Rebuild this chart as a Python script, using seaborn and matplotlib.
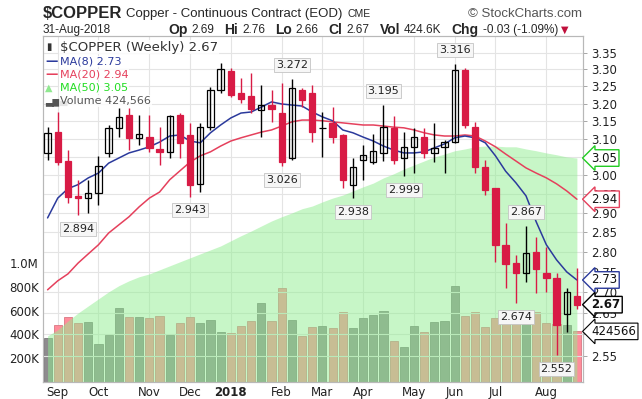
import numpy as np
import pandas as pd
import seaborn as sns
import matplotlib.pyplot as plt
from matplotlib import transforms
from matplotlib.ticker import FixedLocator, FormatStrFormatter, NullLocator

# weekly bars, week of 28-Aug-2017 .. week of 27-Aug-2018
opens = [3.061, 3.119, 3.039, 2.945, 2.939, 2.953, 3.061, 3.131, 3.167, 3.103,
         3.105, 3.072, 3.064, 3.167, 3.111, 2.977, 3.133, 3.240, 3.295, 3.231,
         3.222, 3.182, 3.196, 3.173, 3.047, 3.240, 3.231, 3.131, 3.145, 3.111,
         2.974, 3.042, 3.036, 3.061, 3.131, 3.047, 3.078, 3.105, 3.061, 3.078,
         3.091, 3.298, 3.133, 3.023, 2.966, 2.818, 2.772, 2.748, 2.800, 2.748,
         2.735, 2.648, 2.690]
highs = [3.133, 3.176, 3.069, 2.987, 2.987, 3.053, 3.139, 3.187, 3.187, 3.167,
         3.167, 3.133, 3.167, 3.173, 3.145, 3.145, 3.248, 3.318, 3.304, 3.275,
         3.289, 3.254, 3.240, 3.260, 3.272, 3.245, 3.254, 3.176, 3.190, 3.115,
         3.047, 3.083, 3.114, 3.195, 3.165, 3.119, 3.131, 3.131, 3.145, 3.097,
         3.316, 3.304, 3.148, 3.042, 2.966, 2.874, 2.792, 2.867, 2.838, 2.813,
         2.748, 2.711, 2.760]
lows = [3.042, 3.028, 2.926, 2.894, 2.900, 2.921, 3.050, 3.105, 3.069, 3.083,
        3.064, 3.028, 3.047, 3.047, 2.943, 2.955, 3.125, 3.231, 3.219, 3.202,
        3.173, 3.105, 3.148, 3.026, 3.042, 3.190, 3.091, 3.050, 3.089, 2.966,
        2.938, 2.987, 3.031, 3.039, 3.031, 2.999, 3.006, 3.047, 3.036, 3.006,
        3.089, 3.131, 3.006, 2.947, 2.775, 2.711, 2.674, 2.725, 2.699, 2.701,
        2.552, 2.606, 2.660]
closes = [3.117, 3.036, 2.942, 2.940, 2.953, 3.025, 3.131, 3.162, 3.103, 3.114,
          3.075, 3.064, 3.165, 3.089, 2.974, 3.133, 3.240, 3.301, 3.225, 3.213,
          3.185, 3.196, 3.185, 3.035, 3.245, 3.211, 3.119, 3.131, 3.105, 2.987,
          3.023, 3.056, 3.067, 3.133, 3.042, 3.078, 3.105, 3.061, 3.075, 3.091,
          3.298, 3.139, 3.023, 2.961, 2.818, 2.770, 2.748, 2.797, 2.758, 2.735,
          2.622, 2.700, 2.670]
volume_k = [367, 479, 549, 493, 501, 316, 394, 620, 549, 549,
            535, 555, 394, 493, 549, 493, 521, 417, 409, 473,
            513, 662, 513, 789, 521, 389, 465, 470, 451, 586,
            451, 535, 563, 597, 344, 290, 470, 417, 501, 513,
            808, 555, 586, 459, 535, 563, 537, 510, 586, 493,
            490, 479, 424.566]
ma8 = [2.887, 2.939, 2.964, 2.975, 2.993, 3.006, 3.033, 3.047, 3.061, 3.069,
       3.078, 3.091, 3.108, 3.111, 3.094, 3.089, 3.117, 3.139, 3.159, 3.173,
       3.176, 3.190, 3.205, 3.199, 3.196, 3.193, 3.176, 3.162, 3.151, 3.125,
       3.117, 3.105, 3.094, 3.080, 3.069, 3.061, 3.061, 3.064, 3.075, 3.086,
       3.103, 3.108, 3.103, 3.089, 3.053, 3.011, 2.980, 2.945, 2.877, 2.818,
       2.780, 2.750, 2.730]
ma20 = [2.706, 2.728, 2.745, 2.772, 2.795, 2.818, 2.848, 2.869, 2.890, 2.916,
        2.939, 2.955, 2.988, 3.012, 3.036, 3.053, 3.064, 3.080, 3.094, 3.103,
        3.111, 3.119, 3.125, 3.136, 3.148, 3.153, 3.153, 3.151, 3.148, 3.145,
        3.142, 3.139, 3.139, 3.136, 3.133, 3.131, 3.125, 3.117, 3.111, 3.108,
        3.108, 3.111, 3.108, 3.094, 3.078, 3.058, 3.039, 3.020, 3.006, 2.993,
        2.977, 2.958, 2.936]
ma50 = [2.596, 2.610, 2.631, 2.650, 2.667, 2.684, 2.701, 2.716, 2.728, 2.738,
        2.745, 2.755, 2.765, 2.775, 2.785, 2.795, 2.805, 2.815, 2.828, 2.841,
        2.853, 2.866, 2.879, 2.890, 2.900, 2.911, 2.918, 2.929, 2.939, 2.947,
        2.958, 2.969, 2.979, 2.993, 3.004, 3.017, 3.028, 3.039, 3.050, 3.058,
        3.067, 3.072, 3.078, 3.080, 3.080, 3.078, 3.078, 3.072, 3.067, 3.061,
        3.056, 3.050, 3.047]

month_labels = ['Sep', 'Oct', 'Nov', 'Dec', '2018', 'Feb', 'Mar', 'Apr', 'May', 'Jun', 'Jul', 'Aug']
month_weeks = [1, 5, 10, 14, 18, 23, 27, 31, 36, 40, 44, 49]
price_ticks = [2.55, 2.60, 2.65, 2.70, 2.75, 2.80, 2.85, 2.90, 2.95, 3.00,
               3.05, 3.10, 3.15, 3.20, 3.25, 3.30, 3.35]
vol_ticks = [200, 400, 600, 800, 1000]
vol_tick_labels = ['200K', '400K', '600K', '800K', '1.0M']

# price callouts: (week, label, high/low)
callouts = [(3, '2.894', 'low'), (14, '2.943', 'low'), (23, '3.026', 'low'),
            (24, '3.272', 'high'), (30, '2.938', 'low'), (33, '3.195', 'high'),
            (35, '2.999', 'low'), (40, '3.316', 'high'), (46, '2.674', 'low'),
            (47, '2.867', 'high'), (50, '2.552', 'low')]

RED = '#d81b45'
BLUE = '#2b3a9c'
PINK = '#e5405c'

sns.set_style("white")
plt.rcParams['font.family'] = ['DejaVu Sans']

W, H = 642, 399
fig = plt.figure(figsize=(W / 100, H / 100), dpi=100)


def fx(x):
    return x / W


def fy(y):
    return 1 - y / H


L, R, T, B = 43, 583, 36, 381.7
axv = fig.add_axes([fx(L), fy(B), (R - L) / W, (B - T) / H])
ax = axv.twinx()

weeks = np.arange(len(closes))
o, h, l, c = map(np.array, (opens, highs, lows, closes))
up = c >= o

# volume (bottom layer)
vol = pd.DataFrame({"week": weeks, "vol": volume_k, "dir": np.where(up, "up", "down")})
sns.barplot(data=vol, x="week", y="vol", hue="dir", native_scale=True, dodge=False,
            palette={"up": "#8e8b8e", "down": "#ff8c9a"}, saturation=1, width=0.8,
            linewidth=0.6, legend=False, ax=axv)
for p in axv.patches:
    r_, g_, b_, _ = p.get_facecolor()
    p.set_edgecolor((r_ * 0.85, g_ * 0.85, b_ * 0.85))
axv.set_ylim(0, 2917)
axv.yaxis.set_major_locator(FixedLocator(vol_ticks))
axv.set_yticklabels(vol_tick_labels)
axv.set_xticks(month_weeks, month_labels)
axv.grid(axis='x', color='#e4e4e4', lw=0.8)
axv.set_xlabel('')
axv.set_ylabel('')
axv.tick_params(axis='both', labelsize=8.5, length=0, pad=3, labelcolor='#222222')
for t in axv.get_xticklabels():
    if t.get_text() == '2018':
        t.set_fontweight('bold')

# price (log scale, on top)
ax.set_yscale('log')
ax.set_axisbelow(True)
ax.grid(axis='y', color='#e4e4e4', lw=0.8)
ax.fill_between(weeks, ma50, 2.3, color='#90ee90', alpha=0.5, lw=0, zorder=2)
sns.lineplot(x=weeks, y=ma20, ax=ax, color=PINK, lw=1.1, zorder=2.6)
sns.lineplot(x=weeks, y=ma8, ax=ax, color=BLUE, lw=1.1, zorder=2.7)

ax.vlines(weeks, l, h, colors=np.where(up, 'black', RED), lw=1, zorder=3)
ax.bar(weeks, np.abs(c - o), bottom=np.minimum(o, c), width=0.62,
       color=np.where(up, 'none', RED), edgecolor=np.where(up, 'black', RED),
       lw=0.9, zorder=4)

ax.set_ylim(2.491, 3.401)
ax.yaxis.set_major_locator(FixedLocator(price_ticks))
ax.yaxis.set_major_formatter(FormatStrFormatter('%.2f'))
ax.yaxis.set_minor_locator(NullLocator())
ax.tick_params(axis='y', labelsize=8.5, length=3, width=0.6, color='#999999', pad=3,
               labelcolor='#222222')
ax.set_ylabel('')
axv.set_xlim(-0.45, 52.6)

for a in (ax, axv):
    for s in a.spines.values():
        s.set_color('#b8b8b8')
        s.set_linewidth(0.8)

# high / low callouts
for wk, txt, side in callouts:
    yv = h[wk] if side == 'high' else l[wk]
    ax.annotate(txt, (wk, yv), xytext=(0, 10 if side == 'high' else -10),
                textcoords='offset points', ha='center', va='center', fontsize=8,
                color='#222222', zorder=6,
                bbox=dict(boxstyle='square,pad=0.18', fc='#f6f6f6', ec='#c4c4c4', lw=0.6))

# value tags on the right edge
tags = [(ma50[-1], '3.05', '#22cc22', 'normal'), (ma20[-1], '2.94', PINK, 'normal'),
        (ma8[-1], '2.73', BLUE, 'normal'), (closes[-1], '2.67', 'black', 'bold')]
for yv, txt, col, fw in tags:
    ax.annotate(txt, (1.0, yv), xycoords=ax.get_yaxis_transform(), xytext=(6, 0),
                textcoords='offset points', ha='left', va='center', fontsize=8.5,
                fontweight=fw, color='#111111', zorder=10, annotation_clip=False,
                bbox=dict(boxstyle='larrow,pad=0.15', fc='white', ec=col, lw=1))
vol_tr = transforms.blended_transform_factory(ax.transAxes, axv.transData)
ax.annotate(f'{volume_k[-1] * 1000:.0f}', (1.0, volume_k[-1]), xycoords=vol_tr,
            xytext=(6, 0), textcoords='offset points', ha='left', va='center',
            fontsize=8.5, color='#111111', zorder=10, annotation_clip=False,
            bbox=dict(boxstyle='larrow,pad=0.15', fc='white', ec='black', lw=0.8))

# legend block, top left
leg_bg = dict(fc='white', ec='none', alpha=0.85, pad=0.6)
fig.text(fx(46), fy(47), '▮', fontsize=7, color='#333333', va='center')
fig.text(fx(60), fy(47), '$COPPER (Weekly) 2.67', fontsize=9.5, color='#333333',
         va='center', bbox=leg_bg)
rows = [(61.5, '—', 'MA(8) 2.73', BLUE), (74.5, '—', 'MA(20) 2.94', PINK),
        (88, '▲', 'MA(50) 3.05', '#22dd22'), (101, '▃▆▄', 'Volume 424,566', '#555555')]
for yy, icon, txt, col in rows:
    icol = '#8fe88f' if icon == '▲' else col
    fig.text(fx(45), fy(yy), icon, fontsize=7 if icon != '—' else 9, color=icol,
             va='center', fontweight='bold')
    fig.text(fx(60), fy(yy), txt, fontsize=8, color=col, va='center', bbox=leg_bg)

# header
renderer = fig.canvas.get_renderer()


def run(x, y, pieces):
    for txt, gap, kw in pieces:
        t = fig.text(fx(x), fy(y), txt, va='center', ha='left', **kw)
        x += t.get_window_extent(renderer).width + gap


hf = ['Liberation Sans']
run(43, 14, [('$COPPER', 4, dict(fontsize=12, fontweight='bold', family=hf)),
             ('Copper - Continuous Contract (EOD)', 5, dict(fontsize=9.5, family=hf)),
             ('CME', 0, dict(fontsize=7.5, family=hf))])
fig.text(fx(582), fy(14), '© StockCharts.com', ha='right', va='center', fontsize=9.5,
         color='#555555', family=hf)
fig.text(fx(43), fy(30), '31-Aug-2018', va='center', fontsize=8.5, family=hf)
b9 = dict(fontsize=10, fontweight='bold', family=hf)
n8 = dict(fontsize=8.5, family=hf)
run(168, 30, [('Op', 4, b9), ('2.69', 10, n8), ('Hi', 4, b9), ('2.76', 10, n8),
              ('Lo', 4, b9), ('2.66', 10, n8), ('Cl', 4, b9), ('2.67', 10, n8),
              ('Vol', 4, b9), ('424.6K', 10, n8), ('Chg', 4, b9),
              ('-0.03 (-1.09%)', 3, n8), ('▼', 0, dict(fontsize=7, color='#c0103c'))])

fig.savefig('out.png', dpi=100)
